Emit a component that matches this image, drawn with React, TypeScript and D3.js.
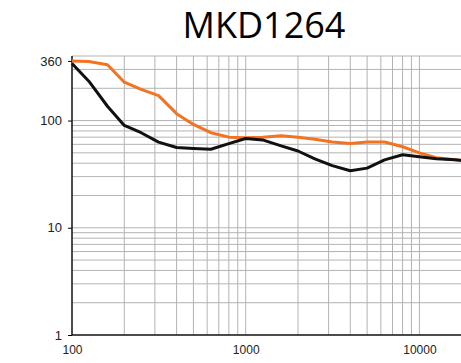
import { useEffect, useRef } from 'react'
import * as d3 from 'd3'

const freqs = [100, 125, 160, 200, 250, 315, 400, 500, 630, 800, 1000, 1250, 1600, 2000, 2500, 3150, 4000, 5000, 6300, 8000, 10000, 12500, 16000, 20000]
const orangeVals = [360, 356, 332, 228, 195, 171, 116, 92, 77, 70, 69, 70, 72, 70, 67, 63, 61, 63, 63, 57, 50, 45, 43, 41]
const blackVals = [341, 233, 136, 90, 77, 63, 56, 55, 54, 61, 68, 66, 58, 52, 44, 38, 34, 36, 43, 48, 46, 44, 43, 42]
const yTickLabels = [1, 10, 100, 360]
const xTickLabels = [100, 1000, 10000]

export default function App() {
  const ref = useRef<SVGSVGElement | null>(null)

  useEffect(() => {
    const svg = d3.select(ref.current)
    svg.selectAll('*').remove()

    const x = d3.scaleLog().domain([100, 20000]).range([72, 471.7])
    const y = d3.scaleLog().domain([1, 400]).range([335, 56])

    // grid
    const xGrid: number[] = []
    for (let dec = 100; dec <= 10000; dec *= 10) {
      for (let k = 1; k <= 9; k++) if (dec * k > 100) xGrid.push(dec * k)
    }
    const yGrid: number[] = []
    for (let dec = 1; dec <= 100; dec *= 10) {
      for (let k = 1; k <= 9; k++) if (dec * k > 1 && dec * k <= 400) yGrid.push(dec * k)
    }

    const grid = svg.append('g').attr('stroke', '#b3b3b3').attr('stroke-width', 1)
    grid.selectAll('.vx').data(xGrid).enter().append('line')
      .attr('x1', d => x(d)).attr('x2', d => x(d))
      .attr('y1', y(400)).attr('y2', y(1))
    grid.selectAll('.hy').data(yGrid).enter().append('line')
      .attr('x1', x(100)).attr('x2', 471.7)
      .attr('y1', d => y(d)).attr('y2', d => y(d))

    // axes
    const yAxis = svg.append('g')
      .attr('transform', `translate(${x(100)},0)`)
      .call(d3.axisLeft(y).tickValues(yTickLabels).tickFormat(d3.format('d')).tickSize(4).tickPadding(6))
    yAxis.select('.domain').remove()
    yAxis.selectAll('text').attr('font-size', 13).attr('font-family', '"Liberation Sans", Arial, sans-serif').attr('fill', '#222')

    const xAxis = svg.append('g')
      .attr('transform', `translate(0,${y(1)})`)
      .call(d3.axisBottom(x).tickValues(xTickLabels).tickFormat(d3.format('d')).tickSize(0).tickPadding(10))
    xAxis.select('.domain').remove()
    xAxis.selectAll('text').attr('font-size', 12).attr('font-family', '"Liberation Sans", Arial, sans-serif').attr('fill', '#222')

    svg.append('line').attr('x1', x(100)).attr('x2', x(100)).attr('y1', y(400)).attr('y2', y(1))
      .attr('stroke', '#111').attr('stroke-width', 1.5)
    svg.append('line').attr('x1', x(100)).attr('x2', 471.7).attr('y1', y(1)).attr('y2', y(1))
      .attr('stroke', '#111').attr('stroke-width', 1.5)

    const line = d3.line<number>()
      .x((_, i) => x(freqs[i]))
      .y(d => y(d))

    svg.append('path').datum(orangeVals).attr('d', line)
      .attr('fill', 'none').attr('stroke', '#f47321').attr('stroke-width', 3).attr('stroke-linejoin', 'round')
    svg.append('path').datum(blackVals).attr('d', line)
      .attr('fill', 'none').attr('stroke', '#111').attr('stroke-width', 3).attr('stroke-linejoin', 'round')

    svg.append('text')
      .attr('x', 264).attr('y', 37.5)
      .attr('text-anchor', 'middle')
      .attr('font-family', '"Open Sans", sans-serif')
      .attr('font-size', 36)
      .attr('fill', '#000')
      .text('MKD1264')
  }, [])

  return (
    <svg ref={ref} width={461} height={363} style={{ position: 'absolute', left: 0, top: 0, background: '#fff' }} />
  )
}
